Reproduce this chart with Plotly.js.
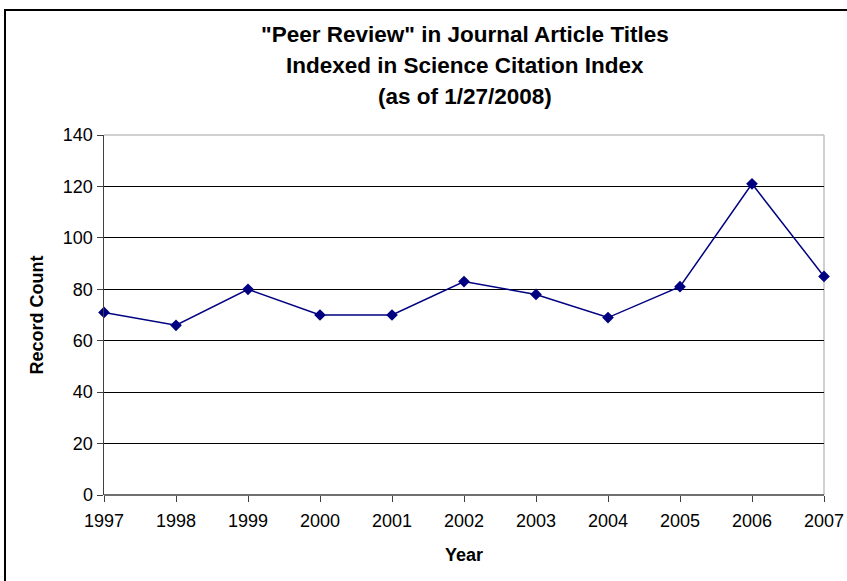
<!DOCTYPE html>
<html>
<head>
<meta charset="utf-8">
<script src="https://cdn.plot.ly/plotly-3.0.1.min.js"></script>
<style>
html,body{margin:0;padding:0;background:#fff;}
#frame{position:absolute;left:4px;top:9px;width:900px;height:700px;border:2px solid #000;box-sizing:border-box;pointer-events:none;z-index:5;}
#chart{position:absolute;left:0;top:0;width:847px;height:581px;}
</style>
</head>
<body>
<div id="chart"></div>
<div id="frame"></div>
<script>
const years = [1997, 1998, 1999, 2000, 2001, 2002, 2003, 2004, 2005, 2006, 2007];
const recordCounts = [71, 66, 80, 70, 70, 83, 78, 69, 81, 121, 85];
const yTicks = [0, 20, 40, 60, 80, 100, 120, 140];
const titleLines = ['"Peer Review" in Journal Article Titles', 'Indexed in Science Citation Index', '(as of 1/27/2008)'];

const FONT = '"Liberation Sans", Arial, sans-serif';

const trace = {
  x: years,
  y: recordCounts,
  type: 'scatter',
  mode: 'lines+markers',
  line: {color: '#000080', width: 1.5},
  marker: {symbol: 'diamond', size: 9, color: '#000080'},
  cliponaxis: false,
  hoverinfo: 'x+y'
};

const titleY = [1.2778, 1.1917, 1.1056];
const annotations = titleLines.map((t, i) => ({
  text: '<b>' + t + '</b>',
  xref: 'paper', yref: 'paper',
  x: 0.5014, y: titleY[i],
  xanchor: 'center', yanchor: 'middle',
  showarrow: false,
  font: {size: 22.5, family: FONT, color: '#000'}
}));

const layout = {
  width: 847,
  height: 581,
  margin: {l: 104, r: 23, t: 135, b: 86},
  paper_bgcolor: '#ffffff',
  plot_bgcolor: '#ffffff',
  font: {family: FONT, color: '#000', size: 18},
  showlegend: false,
  annotations: annotations,
  xaxis: {
    range: [1997, 2007],
    tickvals: years,
    ticktext: years.map(String),
    showgrid: false,
    zeroline: false,
    showline: false,
    ticks: 'outside', ticklen: 6, tickcolor: '#404040', tickwidth: 1,
    ticklabelstandoff: 3,
    tickfont: {size: 18, family: FONT},
    title: {text: '<b>Year</b>', font: {size: 18, family: FONT}, standoff: 18}
  },
  yaxis: {
    range: [0, 140],
    tickvals: yTicks,
    showgrid: true, gridcolor: '#000000', gridwidth: 1,
    zeroline: false,
    showline: true, linecolor: '#404040', linewidth: 1.5,
    ticks: 'outside', ticklen: 6, tickcolor: '#404040', tickwidth: 1,
    tickfont: {size: 18, family: FONT},
    title: {text: '<b>Record Count</b>', font: {size: 18, family: FONT}, standoff: 14}
  },
  shapes: [
    {type: 'line', xref: 'paper', yref: 'paper', x0: 0, x1: 1, y0: 1, y1: 1, line: {color: '#c0c0c0', width: 1.5}, layer: 'above'},
    {type: 'line', xref: 'paper', yref: 'paper', x0: 1, x1: 1, y0: 0, y1: 1, line: {color: '#c0c0c0', width: 1.5}, layer: 'below'},
    {type: 'line', xref: 'paper', yref: 'paper', x0: 0, x1: 1, y0: 0, y1: 0, line: {color: '#404040', width: 1.5}, layer: 'below'}
  ]
};

Plotly.newPlot('chart', [trace], layout, {displayModeBar: false, staticPlot: true});
</script>
</body>
</html>
